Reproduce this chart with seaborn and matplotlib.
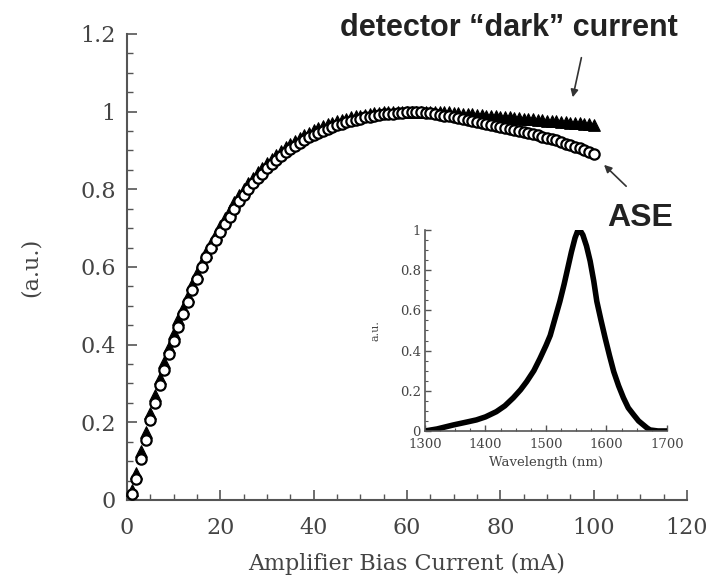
import numpy as np
import pandas as pd
import matplotlib
matplotlib.use("Agg")
import matplotlib.pyplot as plt
import seaborn as sns
from matplotlib.ticker import MultipleLocator

# bias current (mA) for both measured series
bias_ma = list(range(1, 101))

# ASE signal (open circles), normalised
ase = [0.015, 0.055, 0.105, 0.155, 0.205, 0.25, 0.295, 0.335, 0.375, 0.41,
       0.445, 0.48, 0.51, 0.54, 0.57, 0.60, 0.625, 0.65, 0.67, 0.69,
       0.71, 0.73, 0.75, 0.77, 0.785, 0.80, 0.815, 0.83, 0.84, 0.855,
       0.865, 0.875, 0.885, 0.895, 0.905, 0.912, 0.92, 0.927, 0.934, 0.94,
       0.946, 0.951, 0.956, 0.961, 0.965, 0.969, 0.973, 0.976, 0.979, 0.982,
       0.985, 0.987, 0.989, 0.991, 0.993, 0.994, 0.995, 0.996, 0.997, 0.998,
       0.998, 0.998, 0.998, 0.997, 0.996, 0.994, 0.992, 0.99, 0.988, 0.986,
       0.983, 0.981, 0.978, 0.976, 0.973, 0.971, 0.968, 0.966, 0.963, 0.961,
       0.958, 0.956, 0.953, 0.951, 0.948, 0.945, 0.942, 0.939, 0.936, 0.933,
       0.93, 0.926, 0.922, 0.918, 0.914, 0.91, 0.906, 0.901, 0.896, 0.891]

# detector "dark" current (filled triangles), normalised
dark = [0.025, 0.07, 0.125, 0.175, 0.225, 0.27, 0.315, 0.355, 0.395, 0.43,
        0.465, 0.495, 0.525, 0.555, 0.585, 0.612, 0.638, 0.662, 0.684, 0.705,
        0.727, 0.748, 0.767, 0.785, 0.801, 0.816, 0.83, 0.844, 0.856, 0.868,
        0.879, 0.889, 0.899, 0.908, 0.917, 0.925, 0.932, 0.939, 0.946, 0.952,
        0.957, 0.962, 0.967, 0.971, 0.975, 0.979, 0.982, 0.985, 0.988, 0.99,
        0.992, 0.994, 0.996, 0.997, 0.998, 0.999, 1.0, 1.0, 1.0, 1.0,
        1.0, 1.0, 1.0, 1.0, 1.0, 0.999, 0.999, 0.998, 0.998, 0.997,
        0.996, 0.995, 0.994, 0.993, 0.992, 0.991, 0.99, 0.989, 0.988, 0.987,
        0.986, 0.985, 0.984, 0.983, 0.982, 0.981, 0.98, 0.979, 0.978, 0.977,
        0.976, 0.975, 0.974, 0.973, 0.972, 0.971, 0.97, 0.969, 0.968, 0.966]

# inset: ASE spectrum
wavelength = [1300, 1320, 1347, 1370, 1385, 1400, 1418, 1432, 1446, 1458, 1468,
              1480, 1490, 1500, 1507, 1515, 1523, 1530, 1536, 1542, 1548, 1553,
              1557, 1561, 1567, 1573, 1579, 1584, 1591, 1598, 1605, 1612, 1620,
              1628, 1636, 1645, 1653, 1661, 1667, 1672, 1685, 1700]
spectrum = [0.0, 0.01, 0.03, 0.045, 0.055, 0.07, 0.096, 0.125, 0.165, 0.205, 0.245,
            0.30, 0.36, 0.425, 0.475, 0.56, 0.645, 0.73, 0.81, 0.89, 0.96, 1.0,
            0.995, 0.975, 0.92, 0.845, 0.745, 0.645, 0.55, 0.46, 0.375, 0.295, 0.225,
            0.165, 0.115, 0.08, 0.05, 0.03, 0.015, 0.005, 0.0, 0.0]

main_yticks = [0, 0.2, 0.4, 0.6, 0.8, 1.0, 1.2]
main_ylabels = ["0", "0.2", "0.4", "0.6", "0.8", "1", "1.2"]
inset_yticks = [0, 0.2, 0.4, 0.6, 0.8, 1.0]
inset_ylabels = ["0", "0.2", "0.4", "0.6", "0.8", "1"]

sns.set_style("ticks")
plt.rcParams["font.family"] = ["DejaVu Serif"]

axis_grey = "#555555"
text_grey = "#444444"

df = pd.DataFrame({"bias": bias_ma, "ase": ase, "dark": dark})
spec = pd.DataFrame({"wl": wavelength, "val": spectrum})

fig = plt.figure(figsize=(7.11, 5.82), dpi=100)
ax = fig.add_axes([0.1786, 0.1409, 0.7876, 0.8007])

sns.scatterplot(data=df, x="bias", y="dark", marker="^", color="black",
                edgecolor="black", s=70, linewidth=0.8, ax=ax, clip_on=False, zorder=3)
sns.scatterplot(data=df, x="bias", y="ase", marker="o", facecolor="white",
                edgecolor="black", s=55, linewidth=1.6, ax=ax, clip_on=False, zorder=4)

ax.set_xlim(0, 120)
ax.set_ylim(0, 1.2)
ax.set_xticks([0, 20, 40, 60, 80, 100, 120])
ax.set_yticks(main_yticks)
ax.set_yticklabels(main_ylabels)
ax.xaxis.set_minor_locator(MultipleLocator(5))
ax.yaxis.set_minor_locator(MultipleLocator(0.05))
sns.despine(ax=ax)
for sp in ["left", "bottom"]:
    ax.spines[sp].set_color(axis_grey)
    ax.spines[sp].set_linewidth(1.5)
ax.tick_params(which="major", direction="in", length=7, width=1.2, color=axis_grey,
               labelsize=16, labelcolor=text_grey, pad=8)
ax.tick_params(axis="x", which="major", pad=12)
ax.tick_params(which="minor", direction="in", length=4, width=1.0, color=axis_grey)
ax.set_xlabel("Amplifier Bias Current (mA)", fontsize=16, color=text_grey, labelpad=10)
ax.set_ylabel("(a.u.)", fontsize=16, color=text_grey, labelpad=28)

arrow = dict(arrowstyle="-|>", color="#333333", lw=1.2, mutation_scale=11)
ax.annotate("", xy=(95.4, 1.03), xytext=(97.5, 1.146), arrowprops=arrow,
            annotation_clip=False)
ax.annotate("", xy=(101.8, 0.868), xytext=(107.4, 0.803), arrowprops=arrow,
            annotation_clip=False)
fig.text(509 / 711, 1 - 28 / 582, "detector \u201cdark\u201d current",
         family=["Liberation Sans", "DejaVu Sans"], weight="bold", fontsize=22,
         color="#222222", ha="center", va="center")
fig.text(640 / 711, 1 - 218 / 582, "ASE",
         family=["Liberation Sans", "DejaVu Sans"], weight="bold", fontsize=23,
         color="#222222", ha="center", va="center")

# inset spectrum
ins = fig.add_axes([0.5977, 0.2595, 0.3404, 0.3454])
ins.patch.set_alpha(0)
sns.lineplot(data=spec, x="wl", y="val", color="black", lw=4, sort=False,
             estimator=None, ax=ins)
ins.set_xlim(1300, 1700)
ins.set_ylim(0, 1)
ins.set_xticks([1300, 1400, 1500, 1600, 1700])
ins.set_yticks(inset_yticks)
ins.set_yticklabels(inset_ylabels)
ins.xaxis.set_minor_locator(MultipleLocator(25))
ins.yaxis.set_minor_locator(MultipleLocator(0.05))
sns.despine(ax=ins)
for sp in ["left", "bottom"]:
    ins.spines[sp].set_color(axis_grey)
    ins.spines[sp].set_linewidth(1.2)
ins.tick_params(which="major", direction="in", length=4, width=1.0, color=axis_grey,
                labelsize=9.5, labelcolor=text_grey, pad=3)
ins.tick_params(axis="x", which="major", pad=5)
ins.tick_params(which="minor", direction="in", length=2.5, width=0.8, color=axis_grey)
ins.set_xlabel("Wavelength (nm)", fontsize=9.5, color=text_grey, labelpad=4)
ins.set_ylabel("a.u.", fontsize=8, color=text_grey, labelpad=14)

fig.savefig("out.png", dpi=100)
